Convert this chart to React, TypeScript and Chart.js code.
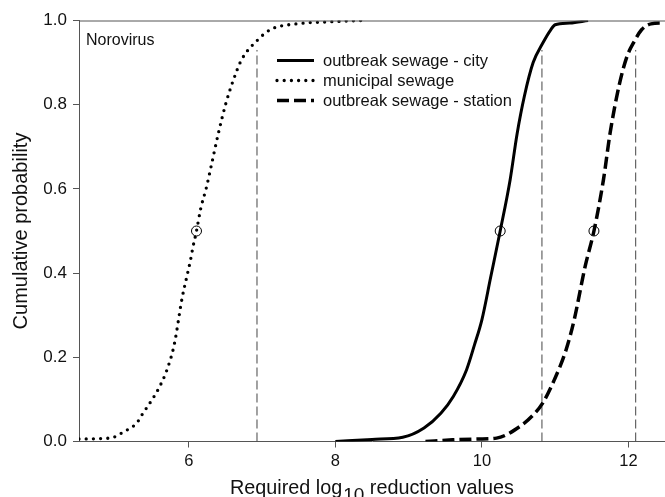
import React, { useEffect, useRef } from "react";
import { Chart, registerables } from "chart.js";

Chart.register(...registerables);

// ---- data ----
const municipalX = [4.5, 4.8, 4.97, 5.08, 5.18, 5.29, 5.35, 5.42, 5.5, 5.6, 5.7, 5.8, 5.91, 5.975, 6.02, 6.057, 6.104, 6.16, 6.24, 6.308, 6.4, 6.5, 6.6, 6.72, 6.94, 7.12, 7.47, 7.94, 8.37];
const municipalY = [0.006, 0.007, 0.01, 0.02, 0.03, 0.044, 0.061, 0.079, 0.1, 0.13, 0.17, 0.23, 0.343, 0.394, 0.429, 0.463, 0.5, 0.552, 0.604, 0.657, 0.73, 0.8, 0.855, 0.907, 0.954, 0.979, 0.992, 0.997, 1.0];

const cityX = [8.0, 8.5, 8.92, 9.21, 9.44, 9.61, 9.79, 9.9, 10.0, 10.12, 10.25, 10.386, 10.48, 10.58, 10.7, 10.83, 10.94, 11.0, 11.2, 11.45];
const cityY = [0.0, 0.005, 0.01, 0.032, 0.067, 0.107, 0.17, 0.23, 0.289, 0.39, 0.5, 0.622, 0.73, 0.82, 0.9, 0.946, 0.978, 0.99, 0.994, 1.0];

const stationX = [9.23, 9.6, 9.96, 10.2, 10.52, 10.7, 10.83, 10.99, 11.15, 11.26, 11.41, 11.53, 11.66, 11.75, 11.87, 11.98, 12.08, 12.18, 12.31, 12.47];
const stationY = [0.0, 0.004, 0.006, 0.008, 0.036, 0.063, 0.091, 0.147, 0.218, 0.289, 0.416, 0.5, 0.622, 0.732, 0.843, 0.914, 0.95, 0.978, 0.992, 0.994];

const medianX = [6.104, 10.25, 11.53];
const medianY = [0.5, 0.5, 0.5];
const p95X = [6.93, 10.82, 12.1];
const p95Top = 0.93;

const xTicks = [6, 8, 10, 12];
const yTicks = [0, 0.2, 0.4, 0.6, 0.8, 1.0];

const legendLabels = ["outbreak sewage - city", "municipal sewage", "outbreak sewage - station"];
const panelLabel = "Norovirus";
const yTitle = "Cumulative probability";
const xTitleParts = ["Required log", "10", " reduction values"];

const FONT = "'Liberation Sans', Arial, Helvetica, sans-serif";
const AXIS = "#555555";

const pts = (xs: number[], ys: number[]) => xs.map((x, i) => ({ x, y: ys[i] }));

const styles = [
  { dash: [] as number[], width: 3, cap: "butt" as CanvasLineCap },
  { dash: [0, 7.2], width: 3.3, cap: "round" as CanvasLineCap },
  { dash: [12, 5], width: 3.5, cap: "butt" as CanvasLineCap },
];

const decorPlugin = {
  id: "decor",
  afterDraw(chart: any) {
    const { ctx, chartArea } = chart;
    ctx.save();
    // top frame line
    ctx.strokeStyle = AXIS;
    ctx.lineWidth = 1;
    ctx.beginPath();
    ctx.moveTo(chartArea.left, chartArea.top + 0.5);
    ctx.lineTo(chartArea.right, chartArea.top + 0.5);
    ctx.stroke();

    // panel label
    ctx.fillStyle = "#111";
    ctx.font = `16px ${FONT}`;
    ctx.textBaseline = "alphabetic";
    ctx.textAlign = "left";
    ctx.fillText(panelLabel, 86, 45);

    // legend
    const rows = [60.5, 80.5, 100.5];
    ctx.font = `16.5px ${FONT}`;
    legendLabels.forEach((lab, i) => {
      const s = styles[i];
      ctx.save();
      ctx.strokeStyle = "#000";
      ctx.lineWidth = s.width;
      ctx.lineCap = s.cap;
      ctx.setLineDash(s.dash);
      ctx.beginPath();
      ctx.moveTo(277, rows[i]);
      ctx.lineTo(314, rows[i]);
      ctx.stroke();
      ctx.restore();
      ctx.fillStyle = "#111";
      ctx.textBaseline = "middle";
      ctx.fillText(lab, 323, rows[i] + 1);
    });

    // y title
    ctx.save();
    ctx.translate(27, (chartArea.top + chartArea.bottom) / 2);
    ctx.rotate(-Math.PI / 2);
    ctx.font = `20px ${FONT}`;
    ctx.textAlign = "center";
    ctx.textBaseline = "alphabetic";
    ctx.fillStyle = "#111";
    ctx.fillText(yTitle, 0, 0);
    ctx.restore();

    // x title with subscript
    ctx.font = `19.8px ${FONT}`;
    ctx.textAlign = "left";
    ctx.textBaseline = "alphabetic";
    ctx.fillStyle = "#111";
    let x = 230;
    const base = 494;
    ctx.fillText(xTitleParts[0], x, base);
    x += ctx.measureText(xTitleParts[0]).width + 1;
    ctx.font = `19px ${FONT}`;
    ctx.fillText(xTitleParts[1], x, base + 7);
    x += ctx.measureText(xTitleParts[1]).width;
    ctx.font = `19.8px ${FONT}`;
    ctx.fillText(xTitleParts[2], x, base);
    ctx.restore();
  },
};

export default function App() {
  const ref = useRef<HTMLCanvasElement | null>(null);
  useEffect(() => {
    document.body.style.margin = "0";
    if (!ref.current) return;
    const datasets: any[] = [
      { data: pts(cityX, cityY), borderDash: styles[0].dash, borderWidth: styles[0].width, borderCapStyle: styles[0].cap },
      { data: pts(municipalX, municipalY), borderDash: styles[1].dash, borderWidth: styles[1].width, borderCapStyle: styles[1].cap },
      { data: pts(stationX, stationY), borderDash: styles[2].dash, borderWidth: styles[2].width, borderCapStyle: styles[2].cap },
    ].map((d) => ({
      ...d,
      showLine: true,
      borderColor: "#000",
      pointRadius: 0,
      cubicInterpolationMode: "monotone",
      fill: false,
    }));
    p95X.forEach((vx) => {
      datasets.push({
        data: [{ x: vx, y: 0 }, { x: vx, y: p95Top }],
        showLine: true,
        borderColor: "#444",
        borderWidth: 1,
        borderDash: [9, 4],
        pointRadius: 0,
        tension: 0,
      });
    });
    datasets.push({
      data: pts(medianX, medianY),
      showLine: false,
      pointStyle: "circle",
      pointRadius: 5,
      pointBorderWidth: 1,
      pointBorderColor: "#000",
      pointBackgroundColor: "rgba(0,0,0,0)",
    });

    const chart = new Chart(ref.current, {
      type: "scatter",
      data: { datasets },
      plugins: [decorPlugin],
      options: {
        animation: false,
        responsive: false,
        layout: { autoPadding: false, padding: { top: 20.5, right: 0, left: 0, bottom: 0 } },
        plugins: { legend: { display: false }, tooltip: { enabled: false } },
        scales: {
          x: {
            type: "linear",
            min: 4.5,
            max: 12.5,
            afterBuildTicks: (s: any) => {
              s.ticks = xTicks.map((v) => ({ value: v }));
            },
            afterFit: (s: any) => {
              s.height = 55.5;
              s.paddingLeft = 0;
              s.paddingRight = 0;
            },
            grid: { display: true, drawOnChartArea: false, drawTicks: true, tickLength: 6, color: AXIS },
            border: { display: true, color: AXIS, width: 1 },
            ticks: { color: "#111", font: { size: 16.5, family: FONT }, padding: 4, maxRotation: 0 },
          },
          y: {
            type: "linear",
            min: 0,
            max: 1,
            afterBuildTicks: (s: any) => {
              s.ticks = yTicks.map((v) => ({ value: v }));
            },
            afterFit: (s: any) => {
              s.width = 79;
            },
            grid: { display: true, drawOnChartArea: false, drawTicks: true, tickLength: 6, color: AXIS },
            border: { display: true, color: AXIS, width: 1 },
            ticks: {
              color: "#111",
              font: { size: 17, family: FONT },
              padding: 6,
              callback: (v: any) => Number(v).toFixed(1),
            },
          },
        },
      },
    });
    return () => chart.destroy();
  }, []);
  return <canvas ref={ref} width={665} height={497} style={{ display: "block" }} />;
}
